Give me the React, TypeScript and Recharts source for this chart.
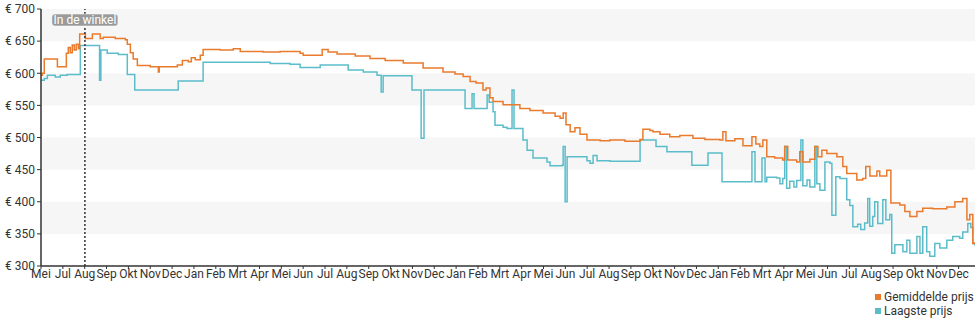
import React from "react"
import { LineChart, Line, XAxis, YAxis, ReferenceArea, ReferenceLine } from "recharts"

// x values are month positions on the axis (0 = first "Mei" tick, one unit per month)
const monthLabels = [
  "Mei", "Jul", "Aug", "Sep", "Okt", "Nov", "Dec", "Jan", "Feb", "Mrt", "Apr",
  "Mei", "Jun", "Jul", "Aug", "Sep", "Okt", "Nov", "Dec", "Jan", "Feb", "Mrt", "Apr",
  "Mei", "Jun", "Jul", "Aug", "Sep", "Okt", "Nov", "Dec", "Jan", "Feb", "Mrt", "Apr",
  "Mei", "Jun", "Jul", "Aug", "Sep", "Okt", "Nov", "Dec",
]
const priceTicks = [300, 350, 400, 450, 500, 550, 600, 650, 700]
const bands: [number, number][] = [[650, 700], [550, 600], [450, 500], [350, 400]]
const storeMonth = 2.01

// Gemiddelde prijs: [month, €]
const avgPrice: [number, number][] = [
  [0, 597], [0.06, 600], [0.15, 622], [0.75, 610], [1.16, 631], [1.25, 640], [1.34, 632],
  [1.43, 644], [1.52, 636], [1.61, 645], [1.71, 638], [1.77, 661], [2.03, 654], [2.35, 661],
  [2.71, 654], [2.85, 656], [3.4, 654], [3.86, 652], [3.95, 645], [4.09, 632], [4.22, 622],
  [4.41, 612], [5.0, 610], [5.32, 610], [5.37, 602], [5.41, 610], [6.24, 613], [6.47, 620],
  [6.74, 618], [6.88, 624], [7.06, 621], [7.29, 628], [7.42, 637], [8.2, 636], [8.8, 638],
  [9.12, 634], [10.17, 633], [10.95, 634], [11.86, 631], [12.0, 628], [12.78, 628],
  [12.87, 637], [13.14, 633], [13.55, 630], [14.38, 627], [15.06, 623], [15.75, 620],
  [16.58, 616], [17.49, 608], [18.4, 602], [18.95, 599], [19.32, 595], [19.64, 587],
  [19.91, 585], [20.23, 574], [20.37, 577], [20.55, 562], [20.69, 556], [21.15, 551],
  [21.92, 545], [22.38, 542], [22.98, 538], [23.53, 533], [23.76, 530], [23.9, 538],
  [24.03, 520], [24.22, 509], [24.44, 515], [24.67, 505], [24.99, 496], [25.59, 495],
  [26.04, 496], [26.73, 494], [27.42, 497], [27.55, 513], [27.87, 511], [28.01, 509],
  [28.33, 505], [28.78, 501], [29.24, 503], [29.84, 499], [30.39, 497], [31.07, 496],
  [31.21, 509], [31.35, 495], [31.76, 498], [32.13, 487], [32.54, 501], [32.72, 490],
  [32.9, 486], [33.04, 496], [33.22, 470], [33.58, 468], [33.95, 465], [34.04, 486],
  [34.18, 465], [34.59, 462], [34.73, 478], [34.87, 462], [35.19, 466], [35.42, 486],
  [35.56, 470], [35.74, 480], [35.97, 475], [36.43, 470], [36.7, 455], [36.88, 444],
  [37.34, 434], [37.61, 436], [37.75, 455], [37.94, 440], [38.26, 448], [38.39, 440],
  [38.71, 449], [38.9, 398], [39.31, 395], [39.54, 385], [39.77, 377], [40.09, 385],
  [40.36, 390], [40.82, 389], [41.46, 392], [41.83, 400], [42.19, 405], [42.38, 372],
  [42.51, 380], [42.65, 335], [42.74, 337],
]

// Laagste prijs: [month, €]
const lowPrice: [number, number][] = [
  [0, 589], [0.15, 592], [0.29, 597], [0.65, 594], [0.88, 597], [1.2, 598], [1.8, 643],
  [2.68, 589], [2.74, 636], [3.03, 631], [3.54, 629], [3.95, 598], [4.29, 574], [6.28, 588],
  [7.42, 617], [9.12, 617], [10.49, 615], [11.4, 614], [11.86, 609], [12.78, 613],
  [14.06, 605], [14.75, 602], [15.38, 597], [15.57, 571], [15.66, 596], [16.98, 574],
  [17.4, 499], [17.53, 574], [19.41, 545], [19.73, 568], [19.82, 545], [20.42, 566],
  [20.51, 555], [20.69, 540], [20.78, 519], [21.15, 516], [21.33, 514], [21.56, 574],
  [21.65, 514], [22.06, 496], [22.25, 480], [22.52, 468], [23.16, 462], [23.3, 456],
  [23.85, 457], [23.9, 486], [23.99, 400], [24.08, 470], [24.99, 464], [25.13, 460],
  [25.27, 472], [25.45, 464], [26.04, 463], [27.42, 496], [28.06, 496], [28.15, 486],
  [28.65, 478], [29.79, 457], [30.53, 476], [31.07, 476], [31.17, 431], [32.54, 478],
  [32.68, 431], [33.0, 468], [33.14, 431], [33.22, 438], [33.68, 437], [33.82, 428],
  [33.95, 436], [34.04, 486], [34.13, 421], [34.27, 432], [34.46, 423], [34.59, 433],
  [34.78, 496], [34.87, 425], [35.06, 434], [35.19, 423], [35.42, 486], [35.51, 428],
  [35.65, 418], [35.88, 462], [36.11, 460], [36.2, 379], [36.38, 439], [36.57, 436],
  [36.88, 403], [37.02, 394], [37.16, 361], [37.38, 365], [37.52, 357], [37.7, 367],
  [37.84, 405], [37.93, 362], [38.07, 377], [38.16, 400], [38.3, 366], [38.53, 403],
  [38.67, 372], [38.85, 380], [38.94, 320], [39.08, 333], [39.31, 333], [39.45, 322],
  [39.63, 340], [39.77, 320], [40.09, 346], [40.23, 320], [40.36, 361], [40.54, 322],
  [40.68, 315], [40.91, 335], [41.14, 328], [41.46, 340], [41.73, 346], [42.05, 343],
  [42.19, 353], [42.42, 366], [42.56, 360], [42.65, 335], [42.74, 332],
]

const AVG_COLOR = "#ea7a2c"
const LOW_COLOR = "#5bbdc9"
const TEXT = "#333"
const FONT = "Roboto, 'Noto Sans', sans-serif"

const toPoints = (rows: [number, number][]) => rows.map(([t, v]) => ({ t, v }))

function StoreLabel({ viewBox }: any) {
  const x = viewBox?.x ?? 0
  const y = (viewBox?.y ?? 0) + 5
  return (
    <g>
      <rect x={x - 33} y={y} width={66} height={12} rx={3} fill="#9a9a9a" stroke="#fff" strokeWidth={0.5} />
      <text x={x} y={y + 10} textAnchor="middle" fill="#fff" fontSize={12} fontFamily={FONT}>
        In de winkel
      </text>
    </g>
  )
}

export default function App() {
  return (
    <div style={{ position: "fixed", left: 0, top: 0, width: 980, height: 325, background: "#fff", fontFamily: FONT }}>
      <LineChart width={980} height={325} margin={{ top: 9, right: 5, bottom: 0, left: 0 }}>
        {bands.map(([lo, hi]) => (
          <ReferenceArea key={lo} y1={lo} y2={hi} fill="#f6f6f6" fillOpacity={1} stroke="none" ifOverflow="hidden" />
        ))}
        <XAxis
          type="number"
          dataKey="t"
          domain={[0, 42.75]}
          ticks={monthLabels.map((_, i) => i)}
          interval={0}
          tickFormatter={(i: number) => monthLabels[i] ?? ""}
          tick={{ fill: TEXT, fontSize: 12, fontFamily: FONT }}
          axisLine={{ stroke: TEXT, strokeWidth: 1.5 }}
          tickLine={{ stroke: TEXT }}
          tickSize={3}
          tickMargin={0}
          height={59}
          allowDataOverflow
        />
        <YAxis
          type="number"
          domain={[300, 700]}
          ticks={priceTicks}
          interval={0}
          tickFormatter={(v: number) => `€ ${v}`}
          tick={{ fill: TEXT, fontSize: 12, fontFamily: FONT }}
          axisLine={{ stroke: TEXT, strokeWidth: 1.5 }}
          tickLine={{ stroke: TEXT }}
          tickSize={4}
          tickMargin={2}
          width={41}
        />
        <Line
          data={toPoints(lowPrice)}
          dataKey="v"
          type="stepAfter"
          stroke={LOW_COLOR}
          strokeWidth={1.5}
          dot={false}
          isAnimationActive={false}
        />
        <Line
          data={toPoints(avgPrice)}
          dataKey="v"
          type="stepAfter"
          stroke={AVG_COLOR}
          strokeWidth={1.5}
          dot={false}
          isAnimationActive={false}
        />
        <ReferenceLine x={storeMonth} stroke={TEXT} strokeDasharray="2 2" strokeWidth={1.5} label={<StoreLabel />} />
      </LineChart>
      <div style={{ position: "absolute", left: 875, top: 290, fontSize: 12, color: TEXT, lineHeight: "14px" }}>
        {[["Gemiddelde prijs", AVG_COLOR], ["Laagste prijs", LOW_COLOR]].map(([name, color]) => (
          <div key={name} style={{ display: "flex", alignItems: "center", gap: 3 }}>
            <span style={{ width: 6, height: 6, background: color, display: "inline-block" }} />
            {name}
          </div>
        ))}
      </div>
    </div>
  )
}
